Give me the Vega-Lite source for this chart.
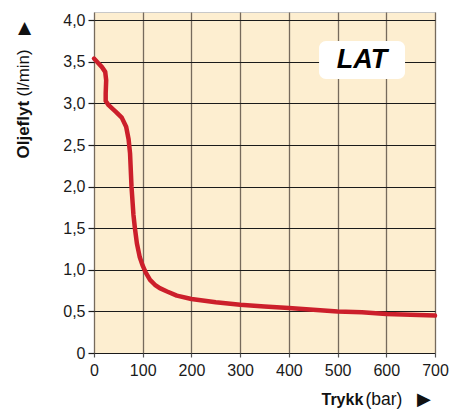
{
  "$schema": "https://vega.github.io/schema/vega-lite/v6.json",
  "width": 341,
  "height": 341,
  "autosize": "none",
  "padding": {"left": 94, "top": 12, "right": 28, "bottom": 61},
  "background": "white",
  "config": {
    "view": {"fill": "#fdeed0", "stroke": "#c8c8c8", "strokeWidth": 1},
    "font": "Liberation Sans"
  },
  "datasets": {
    "flow": [
      {"i": 1, "trykk": 0, "flyt": 3.54},
      {"i": 2, "trykk": 8, "flyt": 3.49},
      {"i": 3, "trykk": 16, "flyt": 3.44},
      {"i": 4, "trykk": 23, "flyt": 3.38},
      {"i": 5, "trykk": 25, "flyt": 3.28},
      {"i": 6, "trykk": 24, "flyt": 3.12},
      {"i": 7, "trykk": 24, "flyt": 3.03},
      {"i": 8, "trykk": 30, "flyt": 2.98},
      {"i": 9, "trykk": 45, "flyt": 2.9},
      {"i": 10, "trykk": 57, "flyt": 2.83},
      {"i": 11, "trykk": 66, "flyt": 2.72},
      {"i": 12, "trykk": 71, "flyt": 2.57},
      {"i": 13, "trykk": 74, "flyt": 2.4},
      {"i": 14, "trykk": 77, "flyt": 2.0},
      {"i": 15, "trykk": 81, "flyt": 1.66},
      {"i": 16, "trykk": 84, "flyt": 1.5},
      {"i": 17, "trykk": 88, "flyt": 1.32},
      {"i": 18, "trykk": 94, "flyt": 1.15},
      {"i": 19, "trykk": 100, "flyt": 1.05},
      {"i": 20, "trykk": 106, "flyt": 0.97},
      {"i": 21, "trykk": 115, "flyt": 0.88},
      {"i": 22, "trykk": 125, "flyt": 0.82},
      {"i": 23, "trykk": 135, "flyt": 0.78},
      {"i": 24, "trykk": 150, "flyt": 0.74},
      {"i": 25, "trykk": 170, "flyt": 0.69},
      {"i": 26, "trykk": 200, "flyt": 0.65},
      {"i": 27, "trykk": 250, "flyt": 0.61},
      {"i": 28, "trykk": 300, "flyt": 0.58},
      {"i": 29, "trykk": 350, "flyt": 0.56},
      {"i": 30, "trykk": 400, "flyt": 0.54},
      {"i": 31, "trykk": 450, "flyt": 0.52},
      {"i": 32, "trykk": 500, "flyt": 0.5},
      {"i": 33, "trykk": 550, "flyt": 0.49},
      {"i": 34, "trykk": 600, "flyt": 0.47},
      {"i": 35, "trykk": 650, "flyt": 0.46},
      {"i": 36, "trykk": 700, "flyt": 0.45}
    ],
    "box": [{"label": "LAT"}]
  },
  "layer": [
    {
      "data": {"name": "flow"},
      "mark": {"type": "line", "color": "#cc1f2b", "strokeWidth": 4.5, "strokeCap": "round", "strokeJoin": "round", "interpolate": "linear"},
      "encoding": {
        "order": {"field": "i", "type": "quantitative"},
        "x": {
          "field": "trykk", "type": "quantitative",
          "scale": {"domain": [0, 700], "nice": false, "zero": false},
          "axis": {
            "orient": "bottom",
            "values": [0, 100, 200, 300, 400, 500, 600, 700],
            "format": "d",
            "domain": false,
            "grid": true, "gridColor": "#766a5c", "gridWidth": 1.3, "gridOpacity": 1,
            "ticks": true, "tickSize": 4, "tickColor": "#555555", "tickWidth": 1.2,
            "labelFontSize": 16, "labelColor": "#1a1a1a", "labelPadding": 5, "labelFont": "Liberation Sans",
            "labelFlush": false, "labelOverlap": false, "labelAlign": "center",
            "title": "Trykk", "titleFontSize": 16, "titleFontWeight": "bold", "titleColor": "#111111",
            "titleAlign": "left", "titleBaseline": "alphabetic", "titleX": 227, "titleY": 51
          }
        },
        "y": {
          "field": "flyt", "type": "quantitative",
          "scale": {"domain": [0, 4.1], "nice": false, "zero": false},
          "axis": {
            "orient": "left",
            "values": [0, 0.5, 1, 1.5, 2, 2.5, 3, 3.5, 4],
            "labelExpr": "datum.value == 0 ? '0' : replace(format(datum.value, '.1f'), '.', ',')",
            "domain": false,
            "grid": true, "gridColor": "#1a1a1a", "gridWidth": 1.2, "gridOpacity": 1,
            "ticks": true, "tickSize": 6, "tickColor": "#1a1a1a", "tickWidth": 1.2,
            "labelFontSize": 16, "labelColor": "#1a1a1a", "labelPadding": 3, "labelFont": "Liberation Sans",
            "labelFlush": false, "labelOverlap": false,
            "title": "Oljeflyt", "titleFontSize": 17, "titleFontWeight": "bold", "titleColor": "#111111",
            "titleAngle": 270, "titleAlign": "left", "titleBaseline": "alphabetic", "titleX": -66, "titleY": 146
          }
        }
      }
    },
    {
      "data": {"name": "flow"},
      "mark": {"type": "line", "strokeOpacity": 0},
      "encoding": {
        "order": {"field": "i", "type": "quantitative"},
        "x": {
          "field": "trykk", "type": "quantitative",
          "axis": {
            "orient": "bottom", "labels": false, "ticks": false, "domain": false, "grid": false,
            "title": "(bar)\u00a0\u00a0\u00a0▶", "titleFontSize": 17.5, "titleFontWeight": "normal", "titleColor": "#111111",
            "titleAlign": "left", "titleBaseline": "alphabetic", "titleX": 271, "titleY": 51
          }
        },
        "y": {
          "field": "flyt", "type": "quantitative",
          "axis": {
            "orient": "left", "labels": false, "ticks": false, "domain": false, "grid": false,
            "title": "(l/min)\u00a0\u00a0\u00a0▶", "titleFontSize": 17, "titleFontWeight": "normal", "titleColor": "#111111",
            "titleAngle": 270, "titleAlign": "left", "titleBaseline": "alphabetic", "titleX": -66, "titleY": 84
          }
        }
      }
    },
    {
      "data": {"name": "box"},
      "mark": {"type": "rect", "fill": "white", "cornerRadius": 7},
      "encoding": {
        "x": {"datum": 462, "type": "quantitative", "axis": null},
        "x2": {"datum": 638.5},
        "y": {"datum": 3.295, "type": "quantitative", "axis": null},
        "y2": {"datum": 3.75}
      }
    },
    {
      "data": {"name": "box"},
      "mark": {"type": "text", "font": "Liberation Sans", "fontSize": 27, "fontWeight": "bold", "fontStyle": "italic", "color": "#000000", "align": "center", "baseline": "middle"},
      "encoding": {
        "text": {"field": "label", "type": "nominal"},
        "x": {"datum": 550, "type": "quantitative", "axis": null},
        "y": {"datum": 3.52, "type": "quantitative", "axis": null}
      }
    }
  ],
  "resolve": {"axis": {"x": "independent", "y": "independent"}}
}
